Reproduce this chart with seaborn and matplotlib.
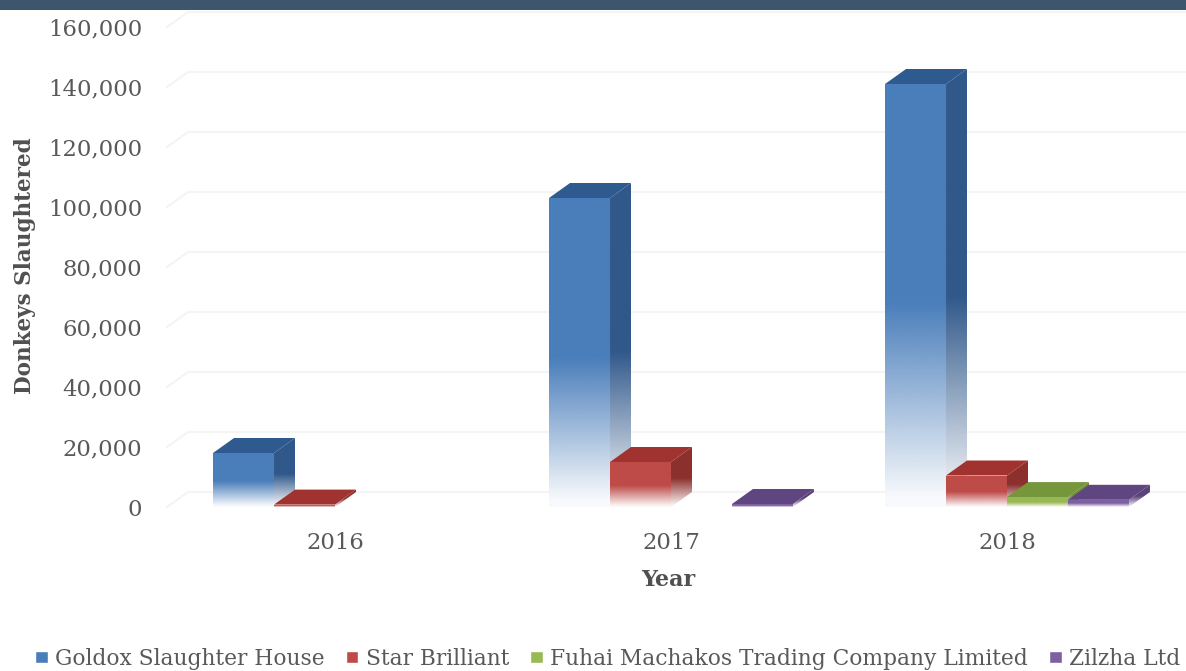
import numpy as np
import pandas as pd
import matplotlib
matplotlib.use("Agg")
import matplotlib.pyplot as plt
from matplotlib.colors import to_rgb
from matplotlib.patches import Polygon, Rectangle
import seaborn as sns

YEARS = ["2016", "2017", "2018"]
COMPANIES = ["Goldox Slaughter House", "Star Brilliant",
             "Fuhai Machakos Trading Company Limited", "Zilzha Ltd"]
GOLDOX = [18000, 103000, 141000]
STAR = [800, 15000, 10500]
FUHAI = [np.nan, np.nan, 3300]
ZILZHA = [np.nan, 1000, 2400]

FRONT = ["#4a7ebb", "#be4b48", "#98b954", "#7d60a0"]
SIDE = ["#30588a", "#8c302d", "#6f8c38", "#5a4378"]
TOP = ["#2f5a90", "#a0332f", "#76963c", "#5f4680"]

W, H = 1186, 671
# size of the 3d offset, in data units (21 px right, 15 px up)
DEPTH_X = 21 / 336
DEPTH_Y = 5000


def fade_image(color, n=200):
    # solid on the upper part, almost white at the foot of the bar
    rgba = np.ones((n, 1, 4))
    rgba[:, 0, :3] = to_rgb(color)
    t = np.linspace(0, 1, n)
    rgba[:, 0, 3] = np.clip((1 - t) / 0.48, 0.04, 1)
    return rgba


def draw_3d_bar(ax, bar, i, z):
    x0, w = bar.get_x(), bar.get_width()
    h = bar.get_height()
    dx, dy = DEPTH_X, DEPTH_Y
    # white under the side face so it hides the gridlines behind it
    side = Polygon([(x0 + w, 0), (x0 + w + dx, dy), (x0 + w + dx, h + dy), (x0 + w, h)],
                   fc="white", ec="none", zorder=z)
    ax.add_patch(side)
    im = ax.imshow(fade_image(SIDE[i]), extent=(x0 + w, x0 + w + dx, 0, h + dy),
                   aspect="auto", zorder=z + 0.05, interpolation="bilinear")
    im.set_clip_path(side)
    ax.add_patch(Polygon([(x0, h), (x0 + dx, h + dy), (x0 + w + dx, h + dy), (x0 + w, h)],
                         fc=TOP[i], ec="none", zorder=z + 0.1))
    white = Rectangle((x0, 0), w, h, fc="white", ec="none", zorder=z + 0.15)
    ax.add_patch(white)
    im = ax.imshow(fade_image(FRONT[i]), extent=(x0, x0 + w, 0, h),
                   aspect="auto", zorder=z + 0.2, interpolation="bilinear")
    im.set_clip_path(white)


df = pd.DataFrame({
    "Year": YEARS * 4,
    "Company": np.repeat(COMPANIES, 3),
    "Donkeys": GOLDOX + STAR + FUHAI + ZILZHA,
})

sns.set_theme(style="white")
plt.rcParams["font.family"] = "DejaVu Serif"

fig = plt.figure(figsize=(W / 100, H / 100), dpi=100)
ax = fig.add_axes([167 / W, 1 - 507 / H, 1008 / W, 480 / H])
sns.barplot(data=df, x="Year", y="Donkeys", hue="Company", hue_order=COMPANIES,
            order=YEARS, palette=FRONT, width=0.726, gap=0, saturation=1, ax=ax)
handles, labels = ax.get_legend_handles_labels()
ax.get_legend().remove()

# back wall gridlines with the small slanted piece on the left
yticks = np.arange(0, 160001, 20000)
for y in yticks:
    ax.plot([-0.5, -0.5 + DEPTH_X, 2.56], [y, y + DEPTH_Y, y + DEPTH_Y],
            color="#f4f4f4", lw=1.5, clip_on=False, zorder=1)

for i, container in enumerate(ax.containers):
    for bar in container:
        bar.set_facecolor("none")
        if bar.get_height() > 0:
            draw_3d_bar(ax, bar, i, 3 + i)

ax.set_xlim(-0.5, 2.5)
ax.set_ylim(0, 160000)
ax.set_yticks(yticks)
ax.set_yticklabels([f"{v:,}" for v in yticks], fontsize=16.4, color="#595959")
ax.tick_params(axis="y", length=0, pad=18)
ax.tick_params(axis="x", length=0, pad=18, labelsize=16.4, labelcolor="#595959")
sns.despine(ax=ax, left=True, bottom=True)
ax.patch.set_alpha(0)

ax.set_xlabel("")
ax.set_ylabel("")
fig.text(668 / W, 1 - 580 / H, "Year", ha="center", va="center",
         fontsize=16, fontweight="bold", color="#505050")
fig.text(25 / W, 1 - 266 / H, "Donkeys Slaughtered", ha="center", va="center",
         rotation=90, fontsize=15.5, fontweight="bold", color="#505050")

fig.legend(handles, labels, ncol=4, loc="center left", bbox_to_anchor=(35 / W, 1 - 659 / H),
           frameon=False, fontsize=15.7, labelcolor="#595959", handlelength=0.58,
           handleheight=0.45, handletextpad=0.33, columnspacing=0.98, borderpad=0, borderaxespad=0)

# dark band along the top edge
fig.add_artist(Rectangle((0, 1 - 10 / H), 1, 10 / H, transform=fig.transFigure,
                         fc="#3d566e", ec="none"))

fig.savefig("out.png", dpi=100)
